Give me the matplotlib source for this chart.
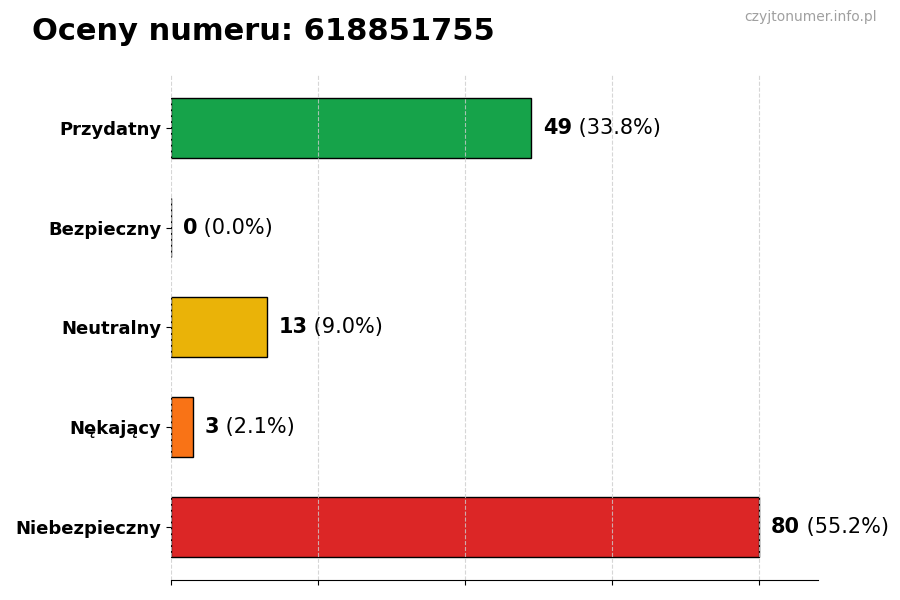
import matplotlib
matplotlib.use('Agg')
import matplotlib.pyplot as plt

categories = ['Przydatny', 'Bezpieczny', 'Neutralny', 'Nękający', 'Niebezpieczny']
counts = [49, 0, 13, 3, 80]
percents = [33.8, 0.0, 9.0, 2.1, 55.2]
colors = ['#16a34a', '#16a34a', '#eab308', '#f97316', '#dc2626']
xticks = [0, 20, 40, 60, 80]

fig = plt.figure(figsize=(9, 6), dpi=100)
ax = fig.add_axes([0.19, 0.034, 0.719, 0.841])

ypos = list(range(len(categories)))[::-1]
ax.barh(ypos, counts, height=0.6, color=colors, edgecolor='black', linewidth=1)

ax.set_xlim(0, max(counts) * 1.1)
ax.set_xticks(xticks)
ax.set_xticklabels([])
ax.set_yticks(ypos)
ax.set_yticklabels(categories, fontsize=13, fontweight='bold')
ax.grid(axis='x', linestyle='--', color='#cccccc', alpha=0.8, linewidth=0.8)
ax.grid(axis='y', visible=False)
for s in ['top', 'right', 'left']:
    ax.spines[s].set_visible(False)

fig.canvas.draw()
for y, c, p in zip(ypos, counts, percents):
    t = ax.text(c + 1.6, y, str(c), fontsize=15, fontweight='bold', va='center', ha='left')
    ax.annotate(' (%.1f%%)' % p, xy=(1, 0), xycoords=t, va='bottom', ha='left', fontsize=15)

fig.text(0.035, 0.948, 'Oceny numeru: 618851755', fontsize=22, fontweight='bold', va='center', ha='left')
fig.text(0.974, 0.971, 'czyjtonumer.info.pl', fontsize=10, color='#a0a0a0', va='center', ha='right')

fig.savefig('out.png', dpi=100)
